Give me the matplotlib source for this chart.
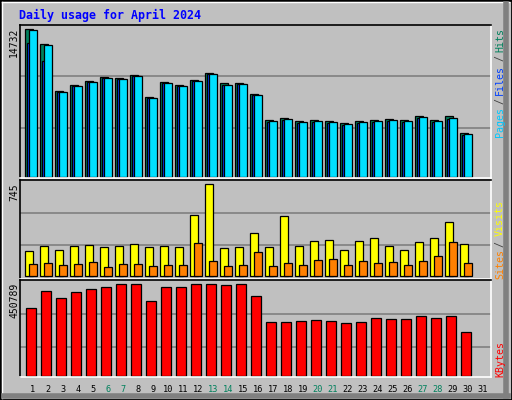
import matplotlib
matplotlib.use("Agg")
import matplotlib.pyplot as plt
from matplotlib.lines import Line2D
import numpy as np

days = list(range(1, 32))
weekend = [6, 7, 13, 14, 20, 21, 27, 28]
hits = [14732, 13266, 8566, 9166, 9566, 9966, 9866, 10166, 7966, 9466, 9166, 9666, 10366, 9366, 9366,
        8266, 5666, 5866, 5566, 5666, 5566, 5366, 5566, 5666, 5766, 5666, 6066, 5666, 6066, 4366]
files = [13332, 11566, 8420, 9020, 9420, 9820, 9720, 10020, 7820, 9320, 9020, 9520, 10220, 9120, 9220,
         8120, 5520, 5720, 5420, 5520, 5420, 5220, 5420, 5520, 5620, 5520, 5920, 5520, 5820, 4220]
pages = [14632, 13166, 8466, 9066, 9466, 9866, 9766, 10066, 7866, 9366, 9066, 9566, 10266, 9166, 9266,
         8166, 5566, 5766, 5466, 5566, 5466, 5266, 5466, 5566, 5666, 5566, 5966, 5566, 5866, 4266]
visits = [204, 239, 212, 239, 247, 231, 239, 255, 231, 239, 231, 495, 745, 223, 231,
          350, 231, 487, 239, 280, 288, 212, 280, 304, 239, 212, 272, 304, 438, 255]
sites = [94, 102, 86, 94, 110, 70, 94, 94, 78, 86, 86, 264, 118, 78, 86,
         191, 78, 102, 86, 126, 135, 86, 118, 102, 110, 86, 118, 159, 272, 102]
kbytes = [336800, 416100, 381400, 411100, 426000, 435900, 450789, 450789, 371500, 435900, 435900,
          450789, 450789, 445800, 450789, 391300, 267500, 267500, 272400, 277400, 272400, 262500,
          267500, 287300, 282300, 282300, 297200, 287300, 297200, 217900]

W, H = 512, 400
BG = "#c0c0c0"
fig = plt.figure(figsize=(5.12, 4.0), dpi=100, facecolor=BG)

def fx(p): return p / W
def fy(p): return 1 - p / H

# frame bevel
fig.add_artist(plt.Rectangle((0, 0), 1, 1, transform=fig.transFigure, fill=False, ec="black", lw=2))
fig.add_artist(Line2D([fx(2), fx(2)], [fy(398), fy(2)], color="white", lw=1))
fig.add_artist(Line2D([fx(2), fx(509)], [fy(2), fy(2)], color="white", lw=1))
fig.add_artist(Line2D([fx(506), fx(506)], [fy(4), fy(396)], color="#808080", lw=4))
fig.add_artist(Line2D([fx(4), fx(508)], [fy(396), fy(396)], color="#808080", lw=4))

x = np.arange(len(hits))
XL = (-5 / 15, 466 / 15)

def mkax(top, bot, ylim, grids):
    ax = fig.add_axes([fx(20), fy(bot), fx(491) - fx(20), fy(top) - fy(bot)])
    ax.set_facecolor(BG)
    ax.set_xlim(*XL)
    ax.set_ylim(*ylim)
    for g in grids:
        ax.axhline(g, color="#808080", lw=1.2, zorder=0)
    ax.set_xticks([]); ax.set_yticks([])
    for s in ["top", "left"]:
        ax.spines[s].set_color("black")
    for s in ["bottom", "right"]:
        ax.spines[s].set_color("white")
    for s in ax.spines.values():
        s.set_linewidth(1.2)
    return ax

mono = "DejaVu Sans Mono"

ax1 = mkax(25, 178, (-100, 15133), [4910, 10020])
kw = dict(align="edge", edgecolor="black", linewidth=0.9)
ax1.bar(x, hits, 8 / 15, color="#00805c", **kw)
ax1.bar(x + 2 / 15, files, 8 / 15, color="#0040ff", **kw)
ax1.bar(x + 4 / 15, pages, 8 / 15, color="#00e0ff", **kw)

ax2 = mkax(180, 279, (-27, 780), [248, 512])
ax2.bar(x, visits, 8 / 15, color="#ffff00", **kw)
ax2.bar(x + 4 / 15, sites, 7.5 / 15, color="#ff8000", **kw)

ax3 = mkax(280, 377, (-3500, 472100), [143700, 307100])
ax3.bar(x + 1 / 15, kbytes, 10 / 15, color="#ff0000", **kw)

# title
fig.text(fx(19), fy(15), "Daily usage for April 2024", color="#0000ff", family=mono,
         fontweight="bold", fontsize=8.4, va="center", ha="left")

# left max labels
for txt, top in [(str(max(hits)), 28), (str(max(visits)), 183), (str(max(kbytes)), 283)]:
    fig.text(fx(14), fy(top), txt, rotation=90, family=mono, fontsize=7, ha="center", va="top")

# right legends
def rlab(pieces):
    for txt, col, yc in pieces:
        fig.text(fx(500), fy(yc), txt, rotation=90, family=mono, fontsize=7.2, color=col,
                 ha="center", va="center")

rlab([("Pages", "#00c8ff", 122), ("/", "#404040", 101), ("Files", "#0040ff", 80),
      ("/", "#404040", 58), ("Hits", "#00805c", 40)])
rlab([("Sites", "#ff8000", 264), ("/", "#404040", 244), ("Visits", "#ffff00", 218)])
rlab([("KBytes", "#ff0000", 359)])

# day labels
for d in days:
    col = "#00805c" if d in weekend else "black"
    fig.text(fx(25 + 15 * (d - 1) + 8), fy(389), str(d), family=mono, fontsize=6.2,
             color=col, ha="center", va="center")

fig.savefig("out.png", dpi=100, facecolor=BG)
